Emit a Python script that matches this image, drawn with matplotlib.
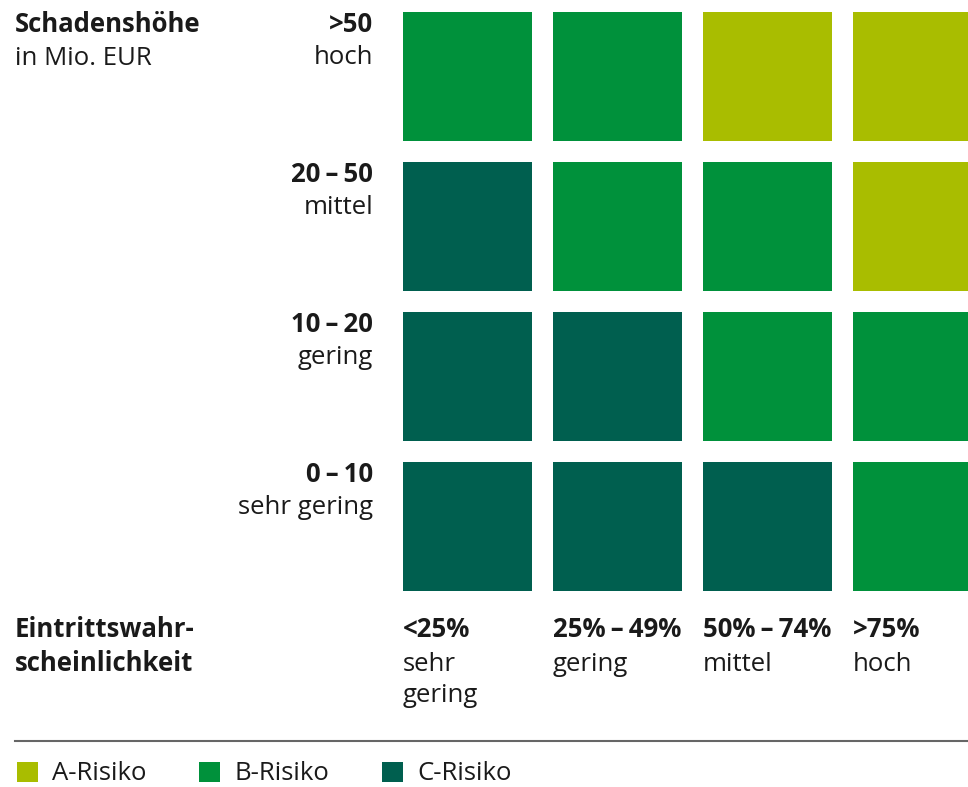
import matplotlib
matplotlib.use("Agg")
import matplotlib.pyplot as plt
import matplotlib.transforms as mtransforms
from matplotlib.patches import Patch
from matplotlib.lines import Line2D

# risk matrix: rows top->bottom (Schadenshöhe), cols left->right (Wahrscheinlichkeit)
row_bold = [">50", "20\u2009–\u200950", "10\u2009–\u200920", "0\u2009–\u200910"]
row_sub = ["hoch", "mittel", "gering", "sehr gering"]
col_bold = ["<25%", "25%\u2009–\u200949%", "50%\u2009–\u200974%", ">75%"]
col_sub = ["sehr\ngering", "gering", "mittel", "hoch"]
grid = [
    ["B", "B", "A", "A"],
    ["C", "B", "B", "A"],
    ["C", "C", "B", "B"],
    ["C", "C", "C", "B"],
]
classes = ["A", "B", "C"]
class_labels = ["A-Risiko", "B-Risiko", "C-Risiko"]
colors = {"A": "#A9BD00", "B": "#00913B", "C": "#005F4F"}

plt.rcParams["font.family"] = ["Open Sans", "DejaVu Sans"]
TXT = "#1a1a1a"
FS = 18.5

W, H = 968, 787
fy = lambda px: 1 - px / H     # figure fraction from pixel row

fig = plt.figure(figsize=(W / 100, H / 100), dpi=100)
ax = fig.add_axes([392.5 / W, (H - 601) / H, 600 / W, 600 / H])
ax.set_xlim(-0.5, 3.5)
ax.set_ylim(3.5, -0.5)
ax.axis("off")

cw = 0.86
for r, row in enumerate(grid):
    for c, k in enumerate(row):
        ax.bar(c, cw, width=cw, bottom=r - cw / 2, color=colors[k], linewidth=0)

# row labels: x in figure, y in data (1 unit = 150 px)
row_tr = mtransforms.blended_transform_factory(fig.transFigure, ax.transData)
for r in range(len(row_bold)):
    top = r - cw / 2
    ax.text(373 / W, top + 20 / 150, row_bold[r], transform=row_tr, ha="right",
            va="baseline", fontsize=FS, fontweight="bold", color=TXT)
    ax.text(373 / W, top + 53 / 150, row_sub[r], transform=row_tr, ha="right",
            va="baseline", fontsize=FS, color=TXT)

col_tr = mtransforms.blended_transform_factory(ax.transData, fig.transFigure)
for c in range(len(col_bold)):
    ax.text(c - cw / 2, fy(637), col_bold[c], transform=col_tr, ha="left",
            va="baseline", fontsize=FS, fontweight="bold", color=TXT)
    for i, line in enumerate(col_sub[c].split("\n")):
        ax.text(c - cw / 2, fy(671 + 31 * i), line, transform=col_tr, ha="left",
                va="baseline", fontsize=FS, color=TXT)

fig.text(15 / W, fy(32), "Schadenshöhe", ha="left", va="baseline", fontsize=FS,
         fontweight="bold", color=TXT)
fig.text(15 / W, fy(65), "in Mio. EUR", ha="left", va="baseline", fontsize=FS, color=TXT)
fig.text(15 / W, fy(637), "Eintrittswahr-", ha="left", va="baseline", fontsize=FS,
         fontweight="bold", color=TXT)
fig.text(15 / W, fy(671), "scheinlichkeit", ha="left", va="baseline", fontsize=FS,
         fontweight="bold", color=TXT)

fig.add_artist(Line2D([15 / W, 1], [fy(740.5)] * 2, transform=fig.transFigure,
                      color="#666666", lw=1.5))

handles = [Patch(facecolor=colors[k], edgecolor="none") for k in classes]
fig.legend(handles, class_labels, loc="center left", bbox_to_anchor=(17 / W, fy(774)),
           ncol=3, frameon=False, fontsize=FS, handlelength=0.82, handleheight=0.82,
           handletextpad=0.55, columnspacing=2.05, labelcolor=TXT,
           borderpad=0, borderaxespad=0)

fig.savefig("out.png", dpi=100)
